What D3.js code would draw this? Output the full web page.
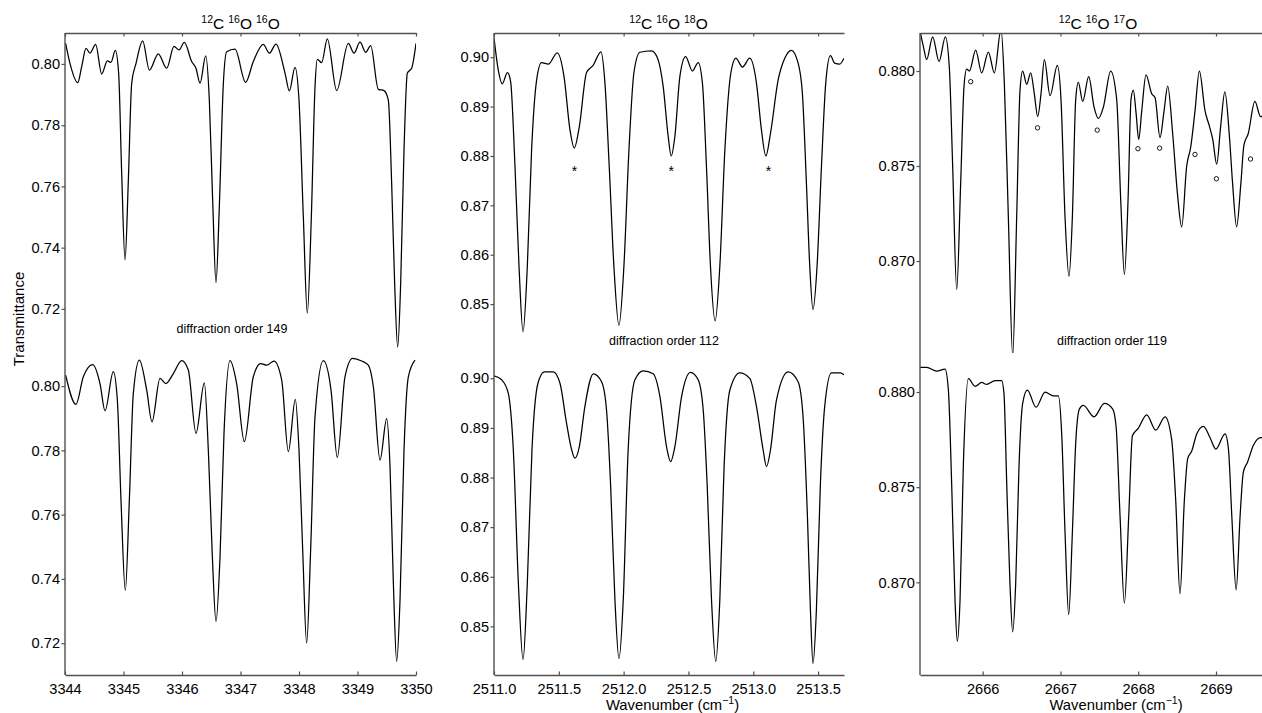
<!DOCTYPE html>
<html><head><meta charset="utf-8">
<script src="https://cdn.jsdelivr.net/npm/d3@7"></script>
<style>
body{margin:0;background:#fff;}
svg{display:block;font-family:"Liberation Sans",Arial,Helvetica,sans-serif;}
</style></head><body>
<svg id="chart" width="1262" height="713"></svg>
<script>
// ---------- DATA ----------
// 12C16O16O, diffraction order 149
const wnA = [3344, 3350];
const ticksXA = [3344,3345,3346,3347,3348,3349,3350];
const ticksYA = [0.72,0.74,0.76,0.78,0.80];
const obsA_x = [3344.011,3344.085,3344.217,3344.285,3344.359,3344.427,3344.524,3344.627,3344.724,3344.786,3344.860,3344.917,3344.969,3345.026,3345.083,3345.140,3345.214,3345.328,3345.442,3345.595,3345.738,3345.863,3345.949,3346.040,3346.165,3346.239,3346.308,3346.405,3346.467,3346.524,3346.581,3346.638,3346.707,3346.764,3346.906,3347.088,3347.219,3347.390,3347.493,3347.607,3347.761,3347.835,3347.932,3348.000,3348.074,3348.142,3348.211,3348.274,3348.313,3348.387,3348.484,3348.644,3348.843,3348.940,3349.043,3349.140,3349.225,3349.356,3349.453,3349.527,3349.584,3349.635,3349.687,3349.738,3349.795,3349.852,3349.926,3350.000];
const obsA_y = [0.8067,0.8002,0.7939,0.7991,0.8051,0.8035,0.8064,0.7967,0.8010,0.8005,0.8044,0.7970,0.7643,0.7360,0.7621,0.7937,0.8002,0.8075,0.7980,0.8033,0.7986,0.8057,0.8046,0.8070,0.8008,0.7986,0.7937,0.8026,0.7882,0.7556,0.7286,0.7534,0.7937,0.8040,0.8048,0.7940,0.8008,0.8064,0.8035,0.8065,0.7970,0.7912,0.7989,0.7882,0.7501,0.7186,0.7501,0.7926,0.8015,0.8004,0.8082,0.7913,0.8067,0.8035,0.8071,0.8038,0.8060,0.7917,0.7913,0.7882,0.7610,0.7284,0.7075,0.7284,0.7719,0.7970,0.7986,0.8067];
const calA_x = [3344.011,3344.188,3344.313,3344.473,3344.598,3344.684,3344.826,3344.895,3344.957,3345.031,3345.100,3345.168,3345.271,3345.396,3345.487,3345.624,3345.721,3345.852,3345.994,3346.108,3346.239,3346.382,3346.450,3346.519,3346.581,3346.650,3346.718,3346.821,3346.934,3347.066,3347.219,3347.345,3347.447,3347.573,3347.704,3347.818,3347.937,3348.000,3348.063,3348.131,3348.199,3348.274,3348.416,3348.547,3348.655,3348.786,3348.917,3349.071,3349.185,3349.271,3349.385,3349.499,3349.556,3349.613,3349.670,3349.727,3349.795,3349.869,3349.983];
const calA_y = [0.8034,0.7943,0.8029,0.8067,0.8008,0.7923,0.8045,0.7956,0.7646,0.7364,0.7646,0.7977,0.8081,0.7988,0.7889,0.8024,0.8008,0.8039,0.8079,0.8050,0.7853,0.8010,0.7801,0.7469,0.7267,0.7469,0.7853,0.8079,0.8008,0.7827,0.8029,0.8070,0.8065,0.8078,0.8019,0.7796,0.7959,0.7801,0.7490,0.7200,0.7490,0.7905,0.8079,0.7988,0.7778,0.8029,0.8086,0.8078,0.8065,0.7998,0.7770,0.7899,0.7749,0.7387,0.7143,0.7335,0.7801,0.8029,0.8081];

// 12C16O18O, diffraction order 112
const wnB = [2511, 2513.7];
const ticksXB = [2511.0,2511.5,2512.0,2512.5,2513.0,2513.5];
const ticksYB = [0.85,0.86,0.87,0.88,0.89,0.90];
const obsB_x = [2511.000,2511.033,2511.064,2511.103,2511.128,2511.162,2511.193,2511.224,2511.257,2511.290,2511.329,2511.367,2511.419,2511.488,2511.540,2511.586,2511.619,2511.658,2511.714,2511.766,2511.825,2511.856,2511.889,2511.925,2511.964,2512.002,2512.041,2512.079,2512.125,2512.215,2512.262,2512.305,2512.344,2512.367,2512.395,2512.434,2512.478,2512.531,2512.575,2512.608,2512.639,2512.670,2512.706,2512.742,2512.781,2512.827,2512.865,2512.917,2512.973,2513.025,2513.063,2513.097,2513.133,2513.192,2513.243,2513.294,2513.346,2513.379,2513.410,2513.436,2513.461,2513.492,2513.526,2513.559,2513.595,2513.628,2513.667,2513.700];
const obsB_y = [0.9039,0.8974,0.8946,0.8969,0.8951,0.8778,0.8576,0.8444,0.8576,0.8812,0.8954,0.8989,0.8986,0.9009,0.8961,0.8853,0.8816,0.8859,0.8969,0.8984,0.9011,0.8947,0.8778,0.8576,0.8457,0.8576,0.8812,0.8968,0.9010,0.9013,0.8998,0.8941,0.8839,0.8800,0.8839,0.8961,0.9001,0.8972,0.8989,0.8947,0.8778,0.8576,0.8466,0.8576,0.8812,0.8968,0.8998,0.8980,0.8998,0.8947,0.8853,0.8800,0.8846,0.8954,0.8998,0.9014,0.8988,0.8927,0.8745,0.8576,0.8489,0.8576,0.8778,0.8947,0.9003,0.8988,0.8986,0.8998];
const calB_x = [2511.000,2511.059,2511.110,2511.149,2511.188,2511.224,2511.257,2511.293,2511.339,2511.388,2511.457,2511.509,2511.560,2511.599,2511.624,2511.658,2511.701,2511.766,2511.830,2511.868,2511.899,2511.933,2511.964,2511.997,2512.035,2512.087,2512.151,2512.228,2512.280,2512.331,2512.362,2512.395,2512.447,2512.516,2512.575,2512.614,2512.644,2512.678,2512.711,2512.742,2512.775,2512.819,2512.896,2512.973,2513.025,2513.076,2513.102,2513.133,2513.179,2513.269,2513.346,2513.384,2513.418,2513.441,2513.461,2513.487,2513.518,2513.551,2513.603,2513.672,2513.700];
const calB_y = [0.9005,0.8997,0.8970,0.8856,0.8587,0.8433,0.8587,0.8856,0.8990,0.9013,0.9013,0.8990,0.8909,0.8856,0.8839,0.8862,0.8943,0.9009,0.8993,0.8936,0.8788,0.8553,0.8435,0.8553,0.8856,0.8997,0.9015,0.9009,0.8963,0.8862,0.8832,0.8862,0.8963,0.9012,0.8997,0.8936,0.8788,0.8553,0.8429,0.8553,0.8822,0.8976,0.9011,0.9000,0.8943,0.8856,0.8822,0.8856,0.8956,0.9013,0.8993,0.8923,0.8721,0.8533,0.8425,0.8533,0.8788,0.8943,0.9011,0.9011,0.9007];
const starB_x = [2511.62, 2512.368, 2513.117];
const starB_y = [0.8776, 0.8776, 0.8776];

// 12C16O17O, diffraction order 119
const wnC = [2665.194, 2670.08];
const ticksXC = [2666,2667,2668,2669];
const ticksYC = [0.870,0.875,0.880];
const obsC_x = [2665.194,2665.237,2665.280,2665.357,2665.439,2665.520,2665.571,2665.614,2665.666,2665.717,2665.760,2665.794,2665.829,2665.910,2665.987,2666.073,2666.150,2666.236,2666.279,2666.330,2666.386,2666.437,2666.480,2666.514,2666.566,2666.617,2666.664,2666.707,2666.750,2666.793,2666.866,2666.960,2667.007,2667.059,2667.110,2667.153,2667.196,2667.230,2667.286,2667.363,2667.432,2667.487,2667.552,2667.646,2667.723,2667.775,2667.822,2667.869,2667.907,2667.937,2667.972,2668.006,2668.045,2668.100,2668.173,2668.216,2668.280,2668.332,2668.379,2668.443,2668.503,2668.559,2668.623,2668.675,2668.730,2668.786,2668.859,2668.915,2668.958,2669.009,2669.060,2669.114,2669.170,2669.213,2669.265,2669.320,2669.359,2669.414,2669.500,2669.573,2669.650];
const obsC_y = [0.8821,0.8813,0.8806,0.8818,0.8805,0.8818,0.8802,0.8750,0.8685,0.8741,0.8792,0.8801,0.8800,0.8811,0.8799,0.8810,0.8799,0.8822,0.8793,0.8723,0.8650,0.8723,0.8790,0.8800,0.8793,0.8799,0.8788,0.8776,0.8788,0.8806,0.8787,0.8803,0.8785,0.8723,0.8692,0.8723,0.8785,0.8794,0.8784,0.8797,0.8781,0.8775,0.8781,0.8800,0.8785,0.8732,0.8693,0.8732,0.8785,0.8790,0.8778,0.8764,0.8779,0.8798,0.8788,0.8786,0.8765,0.8779,0.8792,0.8767,0.8736,0.8718,0.8750,0.8760,0.8779,0.8800,0.8779,0.8771,0.8764,0.8751,0.8771,0.8789,0.8767,0.8741,0.8718,0.8741,0.8761,0.8767,0.8784,0.8776,0.8778];
const calC_x = [2665.194,2665.280,2665.408,2665.516,2665.559,2665.601,2665.644,2665.674,2665.709,2665.751,2665.816,2665.901,2665.987,2666.051,2666.159,2666.244,2666.274,2666.309,2666.351,2666.386,2666.424,2666.467,2666.514,2666.574,2666.686,2666.802,2666.909,2666.973,2667.016,2667.059,2667.106,2667.153,2667.196,2667.243,2667.294,2667.432,2667.565,2667.672,2667.715,2667.766,2667.822,2667.878,2667.925,2668.002,2668.109,2668.225,2668.345,2668.430,2668.482,2668.537,2668.593,2668.636,2668.688,2668.752,2668.838,2668.924,2668.997,2669.117,2669.160,2669.203,2669.259,2669.310,2669.352,2669.404,2669.481,2669.575,2669.650];
const calC_y = [0.8813,0.8813,0.8811,0.8812,0.8801,0.8752,0.8691,0.8669,0.8691,0.8761,0.8807,0.8803,0.8805,0.8804,0.8806,0.8806,0.8799,0.8752,0.8699,0.8674,0.8699,0.8761,0.8794,0.8801,0.8792,0.8800,0.8798,0.8798,0.8778,0.8726,0.8683,0.8726,0.8773,0.8791,0.8793,0.8787,0.8794,0.8791,0.8782,0.8735,0.8689,0.8735,0.8777,0.8781,0.8788,0.8780,0.8787,0.8775,0.8743,0.8694,0.8743,0.8765,0.8769,0.8778,0.8782,0.8776,0.8770,0.8778,0.8770,0.8735,0.8696,0.8735,0.8758,0.8763,0.8772,0.8776,0.8776];
const circC_x = [2665.846,2666.705,2667.473,2667.996,2668.275,2668.730,2669.005,2669.444];
const circC_y = [0.87944,0.87701,0.87689,0.87591,0.87594,0.87561,0.87433,0.87537];

const isotopes = [["12","C","16","O","16","O"],["12","C","16","O","18","O"],["12","C","16","O","17","O"]];
const orders = ["diffraction order 149","diffraction order 112","diffraction order 119"];

// ---------- LAYOUT ----------
const W = 1262, H = 713;
const rows = [[33, 353], [353, 675]];
const cols = [
  {x0:65, x1:416, dom:wnA, tx:ticksXA, ty:ticksYA, fx:d3.format("d"), fy:d3.format(".2f"),
   yd:[[0.7056,0.8101],[0.7101,0.8103]], obs:d3.zip(obsA_x,obsA_y), cal:d3.zip(calA_x,calA_y),
   titleX:240.5, orderPos:[232,333], xlab:null},
  {x0:494, x1:844, dom:wnB, tx:ticksXB, ty:ticksYB, fx:d3.format(".1f"), fy:d3.format(".2f"),
   yd:[[0.8401,0.9049],[0.8402,0.9051]], obs:d3.zip(obsB_x,obsB_y), cal:d3.zip(calB_x,calB_y),
   titleX:668.5, orderPos:[664,344.5], xlab:672.5},
  {x0:920, x1:1300, dom:wnC, tx:ticksXC, ty:ticksYC, fx:d3.format("d"), fy:d3.format(".3f"),
   yd:[[0.86516,0.88200],[0.86513,0.88205]], obs:d3.zip(obsC_x,obsC_y), cal:d3.zip(calC_x,calC_y),
   titleX:1098, orderPos:[1112,344.5], xlab:1116}
];

const svg = d3.select("#chart");
const defs = svg.append("defs");
const axisColor = "#505050";
const tickFont = 14.6;

cols.forEach((c, ci) => {
  const x = d3.scaleLinear().domain(c.dom).range([c.x0, c.x1]);
  const g = svg.append("g");

  [0,1].forEach(ri => {
    const [yt, yb] = rows[ri];
    const y = d3.scaleLinear().domain(c.yd[ri]).range([yb, yt]);
    const cid = `clip${ci}${ri}`;
    defs.append("clipPath").attr("id", cid).append("rect")
      .attr("x", c.x0).attr("y", yt).attr("width", c.x1 - c.x0).attr("height", yb - yt);
    const line = d3.line().x(d => x(d[0])).y(d => y(d[1])).curve(d3.curveMonotoneX);
    g.append("path").datum(ri === 0 ? c.obs : c.cal)
      .attr("clip-path", `url(#${cid})`)
      .attr("d", line).attr("fill", "none").attr("stroke", "#000").attr("stroke-width", 1.25);

    // y axis ticks
    const ya = g.append("g").attr("transform", `translate(${c.x0},0)`)
      .call(d3.axisLeft(y).tickValues(c.ty).tickFormat(c.fy).tickSize(3.5).tickPadding(1.5));
    ya.select(".domain").remove();
    ya.selectAll(".tick line").attr("stroke", axisColor).attr("stroke-width", 1.2);
    ya.selectAll(".tick text").attr("font-size", tickFont).attr("fill", "#000")
      .attr("font-family", '"Liberation Sans", Arial, sans-serif');

    if (ri === 0) {
      if (ci === 1) {
        g.selectAll(".star").data(d3.zip(starB_x, starB_y)).enter().append("text")
          .attr("x", d => x(d[0])).attr("y", d => y(d[1]) + 8)
          .attr("text-anchor", "middle").attr("font-size", 14).text("*");
      }
      if (ci === 2) {
        g.selectAll(".circ").data(d3.zip(circC_x, circC_y)).enter().append("circle")
          .attr("cx", d => x(d[0])).attr("cy", d => y(d[1])).attr("r", 2.2)
          .attr("fill", "none").attr("stroke", "#000").attr("stroke-width", 0.9);
      }
    }
  });

  // left axis line spanning both rows
  g.append("line").attr("x1", c.x0).attr("x2", c.x0).attr("y1", rows[0][0]).attr("y2", rows[1][1])
    .attr("stroke", axisColor).attr("stroke-width", 1.4);

  // top border with inward ticks
  const ta = g.append("g").attr("transform", `translate(0,${rows[0][0]})`)
    .call(d3.axisTop(x).tickValues(c.tx).tickFormat("").tickSizeInner(-3.5).tickSizeOuter(0));
  ta.select(".domain").attr("stroke", axisColor).attr("stroke-width", 1.4);
  ta.selectAll(".tick line").attr("stroke", axisColor).attr("stroke-width", 1.2);

  // bottom axis
  const ba = g.append("g").attr("transform", `translate(0,${rows[1][1]})`)
    .call(d3.axisBottom(x).tickValues(c.tx).tickFormat(c.fx).tickSizeInner(-3.5).tickSizeOuter(0).tickPadding(9));
  ba.select(".domain").attr("stroke", axisColor).attr("stroke-width", 1.4);
  ba.selectAll(".tick line").attr("stroke", axisColor).attr("stroke-width", 1.2);
  ba.selectAll(".tick text").attr("font-size", tickFont).attr("fill", "#000")
    .attr("font-family", '"Liberation Sans", Arial, sans-serif');

  // title with isotopic superscripts
  const iso = isotopes[ci];
  const t = svg.append("text").attr("x", c.titleX).attr("y", 29).attr("text-anchor", "middle");
  for (let k = 0; k < 3; k++) {
    t.append("tspan").attr("font-size", 10.5).attr("dy", -6).attr("dx", k === 0 ? 0 : 4).text(iso[2*k]);
    t.append("tspan").attr("font-size", 15.5).attr("dy", 6).text(iso[2*k+1]);
  }

  // diffraction order label
  svg.append("text").attr("x", c.orderPos[0]).attr("y", c.orderPos[1])
    .attr("text-anchor", "middle").attr("font-size", 12.5).text(orders[ci]);

  // x label
  if (c.xlab !== null) {
    const xl = svg.append("text").attr("x", c.xlab).attr("y", 710).attr("text-anchor", "middle").attr("font-size", 14.8);
    xl.append("tspan").text("Wavenumber (cm");
    xl.append("tspan").attr("font-size", 10.5).attr("dy", -6).text("\u22121");
    xl.append("tspan").attr("dy", 6).text(")");
  }
});

// y label
svg.append("text").attr("transform", "translate(24,319) rotate(-90)")
  .attr("text-anchor", "middle").attr("font-size", 15).text("Transmittance");
</script>
</body></html>
